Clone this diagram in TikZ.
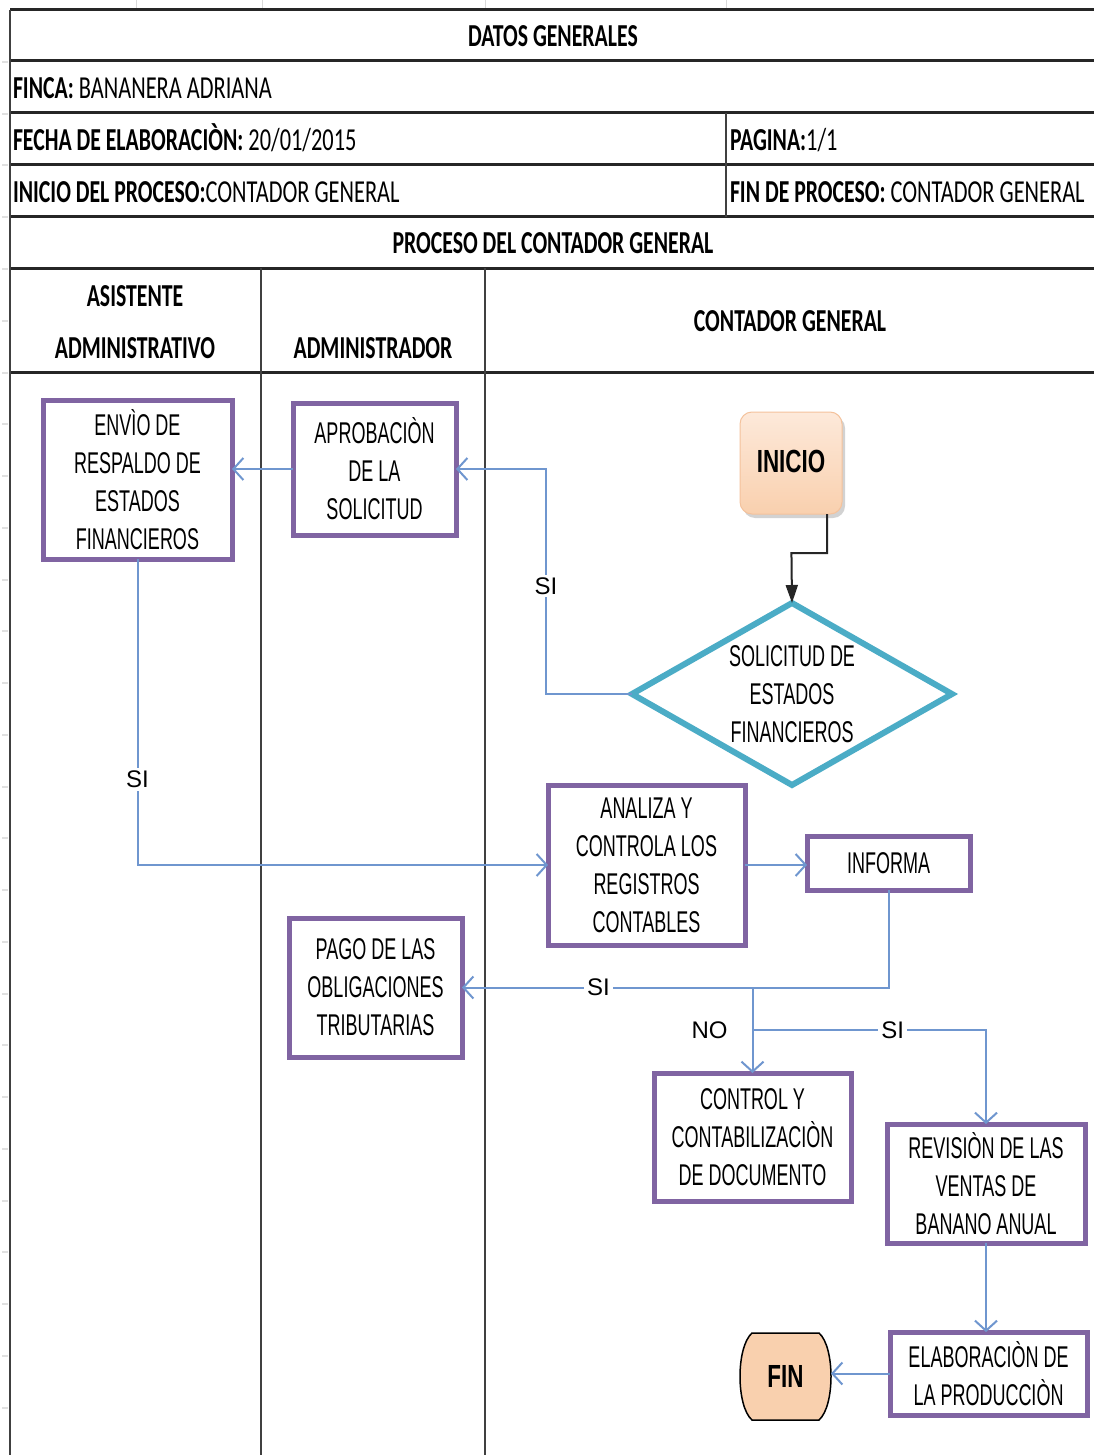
\documentclass[tikz,border=0pt]{standalone}
\usepackage{fontspec}
\setmainfont{Carlito}[UprightFeatures={FakeStretch=0.7}, BoldFeatures={FakeStretch=0.68}]
\newfontfamily\flowfont{Liberation Sans}[FakeStretch=0.6]
\newfontfamily\termfont{Liberation Sans}[FakeStretch=0.7]
\newfontfamily\lblfont{Liberation Sans}
\usetikzlibrary{calc}
\usetikzlibrary{positioning}
\usetikzlibrary{arrows.meta}
\usetikzlibrary{shapes.geometric}
\usetikzlibrary{shadows}
\definecolor{morado}{HTML}{8064A2}
\definecolor{turquesa}{HTML}{4BACC6}
\definecolor{azul}{HTML}{6F96CF}
\definecolor{durazno}{HTML}{F9D0AE}
\definecolor{duraznoclaro}{HTML}{FDE9DA}
\definecolor{duraznoborde}{HTML}{F4C29C}

\begin{document}
\begin{tikzpicture}
[x=1pt, y=-1pt,
% separacion de nodos
every node/.style={inner sep=0, outer sep=0},
% textos de la tabla
cabecera/.style={font=\fontsize{32}{38}\selectfont\bfseries, align=center},
celda/.style={font=\fontsize{32}{38}\selectfont, anchor=base west},
% lineas de la tabla
rejilla/.style={line width=3pt, black!85},
columna/.style={line width=2pt, black!75},
guia/.style={line width=1pt, black!15},
% procesos
proceso/.style={rectangle, draw=morado, line width=5pt, fill=white, align=center,
font=\flowfont\fontsize{30}{38}\selectfont},
decision/.style={diamond, draw=turquesa, line width=6pt, fill=white, aspect=1.76,
minimum width=320, minimum height=182, align=center, font=\flowfont\fontsize{30}{38}\selectfont},
inicio/.style={rectangle, rounded corners=12pt, top color=duraznoclaro, bottom color=durazno,
draw=duraznoborde, line width=1pt, drop shadow={shadow xshift=3pt, shadow yshift=-4pt, opacity=0.35},
font=\termfont\bfseries\fontsize{32}{38}\selectfont},
terminal/.style={font=\termfont\bfseries\fontsize{32}{38}\selectfont},
% conectores
flecha/.style={azul, line width=2pt, -{Straight Barb[length=10pt, width=22pt]}},
flechanegra/.style={black!85, line width=2pt, -{Triangle[length=18pt, width=12pt]}},
etiqueta/.style={font=\lblfont\fontsize{24}{24}\selectfont, text=black, fill=white, inner sep=3pt}
]
\useasboundingbox (0,0) rectangle (1094,1455);
\fill[white] (0,0) rectangle (1094,1455);

% guias de la hoja
\foreach \gx in {136,262,485,726} \draw[guia] (\gx,0) -- (\gx,9);
\foreach \gk in {0,...,26} \draw[guia, line width=2pt, black!12] (2,62+51.75*\gk) -- (8,62+51.75*\gk);

% tabla
\foreach \hy in {10,61,113,165,217,268,372} \draw[rejilla] (10,\hy) -- (1094,\hy);
\draw[columna] (10,10) -- (10,1455);
\draw[columna] (726,113) -- (726,217);
\draw[columna] (261,268) -- (261,1455);
\draw[columna] (485,268) -- (485,1455);

% encabezados
\node[cabecera, anchor=base] (datos) at (553,47) {DATOS GENERALES};
\node[celda] (finca) at (13,99) {\textbf{FINCA:} BANANERA ADRIANA};
\node[celda] (fecha) at (13,151) {\textbf{FECHA DE ELABORACIÒN:} 20/01/2015};
\node[celda] (pagina) at (730,151) {\textbf{PAGINA:}1/1};
\node[celda] (inicioproc) at (13,203) {\textbf{INICIO DEL PROCESO:}CONTADOR GENERAL};
\node[celda] (finproc) at (730,203) {\textbf{FIN DE PROCESO:} CONTADOR GENERAL};
\node[cabecera, anchor=base] (proceso) at (553,254) {PROCESO DEL CONTADOR GENERAL};
\node[cabecera, anchor=base] (asistente) at (135,306) {ASISTENTE};
\node[cabecera, anchor=base] (administrativo) at (135,358) {ADMINISTRATIVO};
\node[cabecera, anchor=base] (administrador) at (373,358) {ADMINISTRADOR};
\node[cabecera, anchor=base] (contador) at (790,331) {CONTADOR GENERAL};

% bloques del proceso
\node[inicio, minimum width=102, minimum height=102] (ini) at (791,463) {\raisebox{3pt}{INICIO}};
\node[decision] (dia) at (792,694) {SOLICITUD DE\\ESTADOS\\FINANCIEROS};
\node[proceso, minimum width=163, minimum height=132] (aprob) at (374.5,469) {APROBACIÒN\\DE LA\\SOLICITUD};
\node[proceso, minimum width=189, minimum height=159] (envio) at (137.5,479.5) {ENVÌO DE\\RESPALDO DE\\ESTADOS\\FINANCIEROS};
\node[proceso, minimum width=197, minimum height=160] (analiza) at (646.5,865) {ANALIZA Y\\CONTROLA LOS\\REGISTROS\\CONTABLES};
\node[proceso, minimum width=163, minimum height=54] (informa) at (888.5,863) {INFORMA};
\node[proceso, minimum width=173, minimum height=139] (pago) at (375.5,987.5) {PAGO DE LAS\\OBLIGACIONES\\TRIBUTARIAS};
\node[proceso, minimum width=197, minimum height=128] (control) at (752.5,1137) {CONTROL Y\\CONTABILIZACIÒN\\DE DOCUMENTO};
\node[proceso, minimum width=198, minimum height=119] (revision) at (986,1183.5) {REVISIÒN DE LAS\\VENTAS DE\\BANANO ANUAL};
\node[proceso, minimum width=197, minimum height=83] (elab) at (988.5,1373.5) {ELABORACIÒN DE\\LA PRODUCCIÒN};
\node[terminal, minimum width=91, minimum height=87] (fin) at (785.5,1376.5) {};
\fill[durazno] ($(fin.north west)+(12,0)$) -- ($(fin.north east)+(-12,0)$)
  .. controls ($(fin.north east)+(4,14)$) and ($(fin.south east)+(4,-14)$) .. ($(fin.south east)+(-12,0)$)
  -- ($(fin.south west)+(12,0)$)
  .. controls ($(fin.south west)+(-4,-14)$) and ($(fin.north west)+(-4,14)$) .. cycle;
\draw[line width=1.5pt] ($(fin.north west)+(12,0)$) -- ($(fin.north east)+(-12,0)$)
  .. controls ($(fin.north east)+(4,14)$) and ($(fin.south east)+(4,-14)$) .. ($(fin.south east)+(-12,0)$)
  -- ($(fin.south west)+(12,0)$)
  .. controls ($(fin.south west)+(-4,-14)$) and ($(fin.north west)+(-4,14)$) .. cycle;
\node[terminal] (fintxt) at (fin) {FIN};

% conexiones
\draw[flechanegra] ([xshift=36pt]ini.south) |- ($(ini.south)!0.44!(dia.north)$) -- (dia.north);
\draw[flecha] (dia.west) -| ($(aprob.east)+(90,0)$) node[etiqueta, pos=0.74] {SI} -- (aprob.east);
\draw[flecha] (aprob.west) -- (aprob.west -| envio.east);
\draw[flecha] (envio.south) |- (analiza.west) node[etiqueta, pos=0.36] {SI};
\draw[flecha] (analiza.east) -- (analiza.east -| informa.west);
\draw[flecha] (informa.south) |- (pago.east) node[etiqueta, pos=0.84] {SI};
\coordinate (rama1) at (control.north |- pago.east);
\draw[flecha] (rama1) -- (control.north) node[etiqueta, fill=none, left, pos=0.5, xshift=-22pt] {NO};
\coordinate (rama2) at ($(rama1)!0.5!(control.north)$);
\draw[flecha] (rama2) -| (revision.north) node[etiqueta, pos=0.3] {SI};
\draw[flecha] (revision.south) -- (revision.south |- elab.north);
\draw[flecha] (elab.west) -- (elab.west -| fin.east);
\end{tikzpicture}
\end{document}
